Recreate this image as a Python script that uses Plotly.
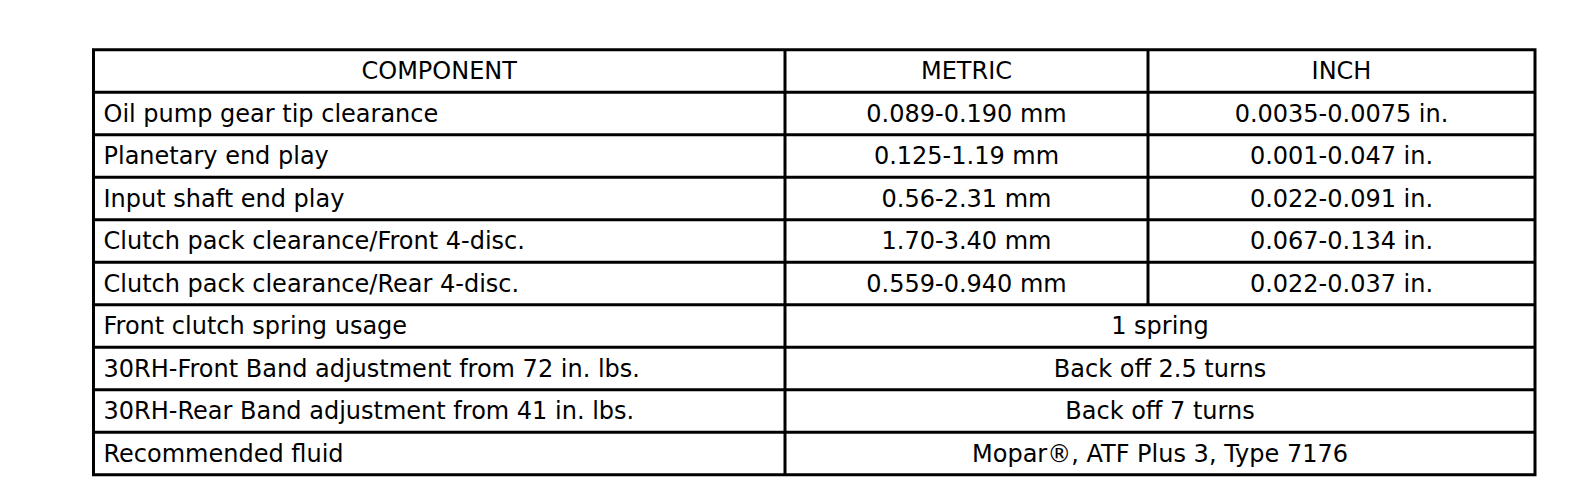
import plotly.graph_objects as go

# table content
headers = ["COMPONENT", "METRIC", "INCH"]
components = [
    "Oil pump gear tip clearance",
    "Planetary end play",
    "Input shaft end play",
    "Clutch pack clearance/Front 4-disc.",
    "Clutch pack clearance/Rear 4-disc.",
    "Front clutch spring usage",
    "30RH-Front Band adjustment from 72 in. lbs.",
    "30RH-Rear Band adjustment from 41 in. lbs.",
    "Recommended fluid",
]
metric = [
    "0.089-0.190 mm",
    "0.125-1.19 mm",
    "0.56-2.31 mm",
    "1.70-3.40 mm",
    "0.559-0.940 mm",
]
inch = [
    "0.0035-0.0075 in.",
    "0.001-0.047 in.",
    "0.022-0.091 in.",
    "0.067-0.134 in.",
    "0.022-0.037 in.",
]
merged = [
    "1 spring",
    "Back off 2.5 turns",
    "Back off 7 turns",
    "Mopar®, ATF Plus 3, Type 7176",
]

# geometry (pixels)
W, H = 1584, 486
x_left, x_c1, x_c2, x_right = 85.5, 777, 1140, 1527
y_top, row_h = 41.7, 42.5
pad = 10
font = dict(family="DejaVu Sans", size=24, color="black")

n_rows = 1 + len(components)
row_edges = [y_top + i * row_h for i in range(n_rows + 1)]
row_mid = [y_top + (i + 0.55) * row_h for i in range(n_rows)]

fig = go.Figure()

# header
fig.add_trace(go.Scatter(
    x=[(x_left + x_c1) / 2, (x_c1 + x_c2) / 2, (x_c2 + x_right) / 2],
    y=[row_mid[0]] * 3, text=headers, mode="text",
    textposition="middle center", textfont=font, hoverinfo="skip"))

# component column
fig.add_trace(go.Scatter(
    x=[x_left + pad] * len(components), y=row_mid[1:], text=components,
    mode="text", textposition="middle right", textfont=font, hoverinfo="skip"))

# metric / inch columns
fig.add_trace(go.Scatter(
    x=[(x_c1 + x_c2) / 2] * len(metric), y=row_mid[1:1 + len(metric)],
    text=metric, mode="text", textposition="middle center", textfont=font,
    hoverinfo="skip"))
fig.add_trace(go.Scatter(
    x=[(x_c2 + x_right) / 2] * len(inch), y=row_mid[1:1 + len(inch)],
    text=inch, mode="text", textposition="middle center", textfont=font,
    hoverinfo="skip"))

# merged cells
fig.add_trace(go.Scatter(
    x=[(x_c1 + x_right) / 2] * len(merged), y=row_mid[1 + len(metric):],
    text=merged, mode="text", textposition="middle center", textfont=font,
    hoverinfo="skip"))

# grid lines
line = dict(color="black", width=3)
shapes = [dict(type="rect", x0=x_left, x1=x_right, y0=row_edges[0],
               y1=row_edges[-1], line=line)]
for y in row_edges[1:-1]:
    shapes.append(dict(type="line", x0=x_left, x1=x_right, y0=y, y1=y, line=line))
shapes.append(dict(type="line", x0=x_c1, x1=x_c1, y0=row_edges[0],
                   y1=row_edges[-1], line=line))
shapes.append(dict(type="line", x0=x_c2, x1=x_c2, y0=row_edges[0],
                   y1=row_edges[1 + len(metric)], line=line))

fig.update_layout(
    width=W, height=H, margin=dict(l=0, r=0, t=0, b=0),
    paper_bgcolor="white", plot_bgcolor="white", showlegend=False,
    shapes=shapes,
    xaxis=dict(range=[0, W], visible=False, fixedrange=True),
    yaxis=dict(range=[H, 0], visible=False, fixedrange=True),
)

fig.write_html("out.html")
